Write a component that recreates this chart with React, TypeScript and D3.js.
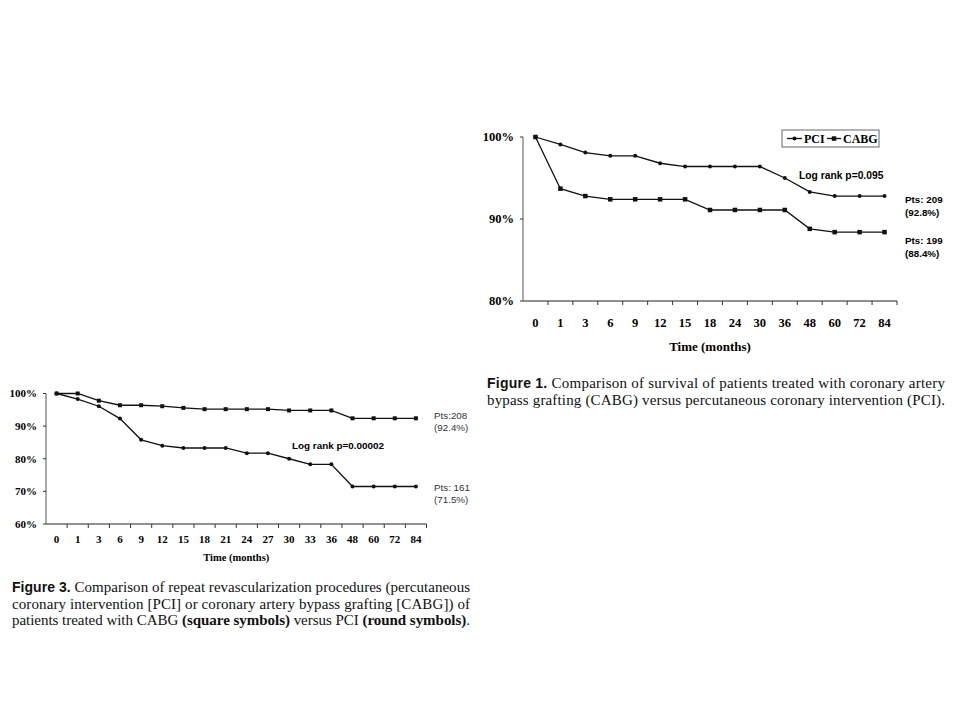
import React from "react";
import * as d3 from "d3";

// Figure 1: survival
const fig1Months = ["0", "1", "3", "6", "9", "12", "15", "18", "24", "30", "36", "48", "60", "72", "84"];
const fig1Pci = [100, 99.1, 98.1, 97.7, 97.7, 96.8, 96.4, 96.4, 96.4, 96.4, 95.0, 93.3, 92.8, 92.8, 92.8];
const fig1Cabg = [100, 93.7, 92.8, 92.4, 92.4, 92.4, 92.4, 91.1, 91.1, 91.1, 91.1, 88.8, 88.4, 88.4, 88.4];
const fig1YTicks = [80, 90, 100];

// Figure 3: repeat revascularization
const fig3Months = ["0", "1", "3", "6", "9", "12", "15", "18", "21", "24", "27", "30", "33", "36", "48", "60", "72", "84"];
const fig3Cabg = [100, 100, 97.8, 96.4, 96.4, 96.1, 95.6, 95.2, 95.2, 95.2, 95.2, 94.8, 94.8, 94.8, 92.4, 92.4, 92.4, 92.4];
const fig3Pci = [100, 98.3, 96.1, 92.3, 85.8, 84.0, 83.3, 83.3, 83.3, 81.7, 81.7, 80.0, 78.3, 78.3, 71.5, 71.5, 71.5, 71.5];
const fig3YTicks = [60, 70, 80, 90, 100];

const SERIF = "'Liberation Serif', 'DejaVu Serif', serif";
const SANS = "'Liberation Sans', Arial, sans-serif";

type Marker = "circle" | "square";

const Series: React.FC<{
  values: number[];
  months: string[];
  x: d3.ScaleBand<string>;
  y: d3.ScaleLinear<number, number>;
  marker: Marker;
  size: number;
}> = ({ values, months, x, y, marker, size }) => {
  const cx = (i: number) => x(months[i])! + x.bandwidth() / 2;
  const line = d3
    .line<number>()
    .x((_, i) => cx(i))
    .y((d) => y(d));
  return (
    <g>
      <path d={line(values) || ""} fill="none" stroke="#111" strokeWidth={1.3} />
      {values.map((v, i) =>
        marker === "circle" ? (
          <circle key={i} cx={cx(i)} cy={y(v)} r={size / 2} fill="#111" />
        ) : (
          <rect key={i} x={cx(i) - size / 2} y={y(v) - size / 2} width={size} height={size} fill="#111" />
        )
      )}
    </g>
  );
};

const Axes: React.FC<{
  months: string[];
  x: d3.ScaleBand<string>;
  y: d3.ScaleLinear<number, number>;
  yTicks: number[];
  fontSize: number;
  labelY: number;
  titleY: number;
  titleSize: number;
  titleWeight: string;
}> = ({ months, x, y, yTicks, fontSize, labelY, titleY, titleSize, titleWeight }) => {
  const [x0, x1] = x.range();
  const [yb, yt] = y.range();
  return (
    <g>
      <line x1={x0} x2={x0} y1={yt} y2={yb} stroke="#555" strokeWidth={1} />
      <line x1={x0} x2={x1} y1={yb} y2={yb} stroke="#222" strokeWidth={1} />
      {yTicks.map((t) => (
        <g key={t}>
          <line x1={x0 - 3} x2={x0} y1={y(t)} y2={y(t)} stroke="#333" />
          <text
            x={x0 - 9}
            y={y(t)}
            dy="0.35em"
            textAnchor="end"
            fontFamily={SERIF}
            fontWeight="bold"
            fontSize={fontSize}
          >
            {t}%
          </text>
        </g>
      ))}
      {months.map((m) => (
        <g key={m}>
          <line x1={x(m)! + x.bandwidth()} x2={x(m)! + x.bandwidth()} y1={yb} y2={yb + 4} stroke="#333" />
          <text
            x={x(m)! + x.bandwidth() / 2}
            y={labelY}
            textAnchor="middle"
            fontFamily={SERIF}
            fontWeight="bold"
            fontSize={fontSize}
          >
            {m}
          </text>
        </g>
      ))}
      <text
        x={(x0 + x1) / 2}
        y={titleY}
        textAnchor="middle"
        fontFamily={SERIF}
        fontWeight={titleWeight}
        fontSize={titleSize}
      >
        Time (months)
      </text>
    </g>
  );
};

const Caption: React.FC<{ x: number; y: number; width: number; lh: number; lines: React.ReactNode[] }> = ({
  x,
  y,
  width,
  lh,
  lines,
}) => (
  <g>
    {lines.map((l, i) => (
      <text
        key={i}
        x={x}
        y={y + i * lh}
        fontFamily={SERIF}
        fontSize={15}
        fill="#111"
        textLength={width}
        lengthAdjust="spacing"
      >
        {l}
      </text>
    ))}
  </g>
);

const App: React.FC = () => {
  const x1 = d3.scaleBand<string>().domain(fig1Months).range([523, 897]).padding(0);
  const y1 = d3.scaleLinear().domain([80, 100]).range([301, 137]);

  const x3 = d3.scaleBand<string>().domain(fig3Months).range([46, 426.5]).padding(0);
  const y3 = d3.scaleLinear().domain([60, 100]).range([524, 393.5]);

  return (
    <div style={{ position: "fixed", left: 0, top: 0 }}>
      <svg width={960} height={720} style={{ display: "block", background: "#fff" }}>
        {/* Figure 1 */}
        <Axes
          months={fig1Months}
          x={x1}
          y={y1}
          yTicks={fig1YTicks}
          fontSize={12.5}
          labelY={327}
          titleY={351}
          titleSize={13}
          titleWeight="600"
        />
        <Series values={fig1Pci} months={fig1Months} x={x1} y={y1} marker="circle" size={4} />
        <Series values={fig1Cabg} months={fig1Months} x={x1} y={y1} marker="square" size={4.5} />
        <g>
          <rect x={782} y={130} width={97} height={17} fill="#fff" stroke="#666" />
          <line x1={787} x2={802} y1={138.5} y2={138.5} stroke="#111" strokeWidth={1.3} />
          <circle cx={794.5} cy={138.5} r={2} fill="#111" />
          <text x={804} y={142.5} fontFamily={SERIF} fontWeight="bold" fontSize={12}>
            PCI
          </text>
          <line x1={827} x2={841} y1={138.5} y2={138.5} stroke="#111" strokeWidth={1.3} />
          <rect x={831.8} y={136.3} width={4.5} height={4.5} fill="#111" />
          <text x={843} y={142.5} fontFamily={SERIF} fontWeight="bold" fontSize={12}>
            CABG
          </text>
        </g>
        <text x={799} y={179} fontFamily={SANS} fontWeight="bold" fontSize={10.3}>
          Log rank p=0.095
        </text>
        <g fontFamily={SANS} fontWeight="bold" fontSize={9.8}>
          <text x={905} y={203}>Pts: 209</text>
          <text x={905} y={216}>(92.8%)</text>
          <text x={905} y={244}>Pts: 199</text>
          <text x={905} y={257}>(88.4%)</text>
        </g>
        <Caption
          x={487}
          y={388}
          width={458}
          lh={17}
          lines={[
            <>
              <tspan fontFamily={SANS} fontWeight="bold" fontSize={14}>
                {"Figure 1. "}
              </tspan>
              Comparison of survival of patients treated with coronary artery
            </>,
            <>bypass grafting (CABG) versus percutaneous coronary intervention (PCI).</>,
          ]}
        />

        {/* Figure 3 */}
        <Axes
          months={fig3Months}
          x={x3}
          y={y3}
          yTicks={fig3YTicks}
          fontSize={11}
          labelY={543}
          titleY={561}
          titleSize={10.5}
          titleWeight="bold"
        />
        <Series values={fig3Cabg} months={fig3Months} x={x3} y={y3} marker="square" size={4} />
        <Series values={fig3Pci} months={fig3Months} x={x3} y={y3} marker="circle" size={4} />
        <text x={292} y={448.5} fontFamily={SANS} fontWeight="bold" fontSize={9.9}>
          Log rank p=0.00002
        </text>
        <g fontFamily={SANS} fontSize={9.8} fill="#333">
          <text x={434} y={419}>Pts:208</text>
          <text x={434} y={431}>(92.4%)</text>
          <text x={434} y={491}>Pts: 161</text>
          <text x={434} y={503}>(71.5%)</text>
        </g>
        <Caption
          x={12}
          y={592}
          width={458}
          lh={16.5}
          lines={[
            <>
              <tspan fontFamily={SANS} fontWeight="bold" fontSize={14}>
                {"Figure 3. "}
              </tspan>
              Comparison of repeat revascularization procedures (percutaneous
            </>,
            <>coronary intervention [PCI] or coronary artery bypass grafting [CABG]) of</>,
            <>
              patients treated with CABG <tspan fontWeight="bold">(square symbols)</tspan> versus PCI{" "}
              <tspan fontWeight="bold">(round symbols)</tspan>.
            </>,
          ]}
        />
      </svg>
    </div>
  );
};

export default App;
